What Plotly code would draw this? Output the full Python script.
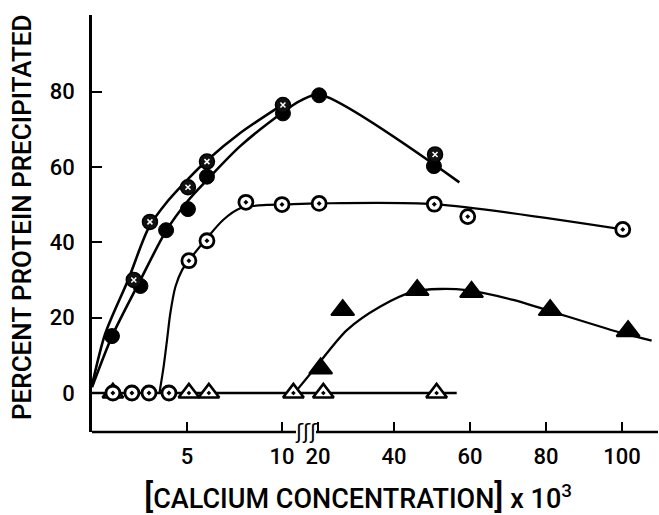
import plotly.graph_objects as go

# ---------------- data (concentration x10^3, percent precipitated) ----------------
# series A: circles with speckled (dark) fill
conc_a = [2.2, 3.05, 5.05, 6.05, 10.05, 50.8]
pct_a = [30.0, 45.4, 54.6, 61.4, 76.4, 63.3]
# series B: filled circles
conc_b = [1.05, 2.55, 3.9, 5.05, 6.05, 10.05, 20.3, 50.5]
pct_b = [15.1, 28.4, 43.2, 48.8, 57.4, 74.2, 79.0, 60.2]
# series C: open circles with centre dot
conc_c = [1.1, 2.1, 3.0, 4.05, 5.1, 6.05, 8.1, 10.0, 20.3, 50.6, 59.4, 100.2]
pct_c = [0.0, 0.0, 0.0, 0.0, 35.1, 40.4, 50.6, 50.0, 50.3, 50.1, 46.8, 43.4]
# series D: filled triangles
conc_d = [20.7, 26.5, 46.1, 60.4, 81.1, 101.6]
pct_d = [6.5, 22.0, 27.3, 26.8, 22.0, 16.4]
# series E: open triangles with centre dot
conc_e = [1.1, 5.1, 6.15, 10.6, 21.4, 51.2]
pct_e = [0.0, 0.0, 0.0, 0.0, 0.0, 0.0]

# hand-drawn fitted curves
curve_a_x = [0.0, 0.7, 1.9, 3.0, 4.0, 5.0, 6.0, 7.8, 10.05]
curve_a_y = [2.0, 15.8, 30.0, 44.0, 51.0, 56.5, 61.5, 69.0, 76.6]
curve_b_x = [0.0, 1.05, 2.5, 3.9, 5.05, 6.05, 7.8, 10.05, 10.95, 20.3, 57.2]
curve_b_y = [1.5, 15.0, 29.5, 43.0, 51.0, 56.5, 65.5, 74.5, 77.5, 79.2, 55.9]
curve_c_x = [3.55, 3.77, 3.95, 4.12, 4.39, 4.74, 5.09, 6.1, 6.9, 7.8, 9.2, 10.05, 20.3, 50.6, 100.2]
curve_c_y = [0.0, 7.0, 14.1, 21.1, 28.2, 32.6, 35.1, 41.4, 45.9, 49.0, 49.9, 50.0, 50.3, 50.1, 43.4]
curve_d_x = [10.74, 18.8, 27.6, 36.3, 45.1, 52.0, 59.1, 71.4, 80.2, 100.3, 107.8]
curve_d_y = [0.5, 6.1, 16.7, 22.9, 26.9, 27.6, 27.3, 24.7, 22.0, 15.8, 13.9]
zero_line_x = [0.0, 56.5]
zero_line_y = [0.0, 0.0]

x_tick_values = [5, 10, 20, 40, 60, 80, 100]
x_tick_labels = ["5", "10", "20", "40", "60", "80", "100"]
y_tick_values = [0, 20, 40, 60, 80]


# broken x axis: 0-11 linear, then 20-100 compressed 5x
def xpos(c):
    if c <= 11.2:
        return c
    return 11.895 + (c - 20.0) * 0.2


def xs(vals):
    return [xpos(v) for v in vals]


FONT = "Roboto, sans-serif"
LW = 2.6

fig = go.Figure()

# lines
for cx, cy, w in [(zero_line_x, zero_line_y, LW), (curve_a_x, curve_a_y, LW),
                  (curve_b_x, curve_b_y, LW), (curve_c_x, curve_c_y, 2.2),
                  (curve_d_x, curve_d_y, 2.3)]:
    fig.add_trace(go.Scatter(x=xs(cx), y=cy, mode="lines",
                             line=dict(color="black", width=w, shape="spline", smoothing=0.8),
                             hoverinfo="skip", showlegend=False))

# markers
fig.add_trace(go.Scatter(x=xs(conc_e), y=pct_e, mode="markers",
                         marker=dict(symbol="triangle-up-dot", size=18, color="white",
                                     line=dict(color="black", width=2.6)),
                         showlegend=False))
fig.add_trace(go.Scatter(x=xs(conc_c), y=pct_c, mode="markers",
                         marker=dict(symbol="circle-dot", size=14, color="white",
                                     line=dict(color="black", width=2.8)),
                         showlegend=False))
fig.add_trace(go.Scatter(x=xs(conc_d), y=pct_d, mode="markers",
                         marker=dict(symbol="triangle-up", size=20, color="black",
                                     line=dict(color="black", width=2)),
                         showlegend=False))
fig.add_trace(go.Scatter(x=xs(conc_b), y=pct_b, mode="markers",
                         marker=dict(symbol="circle", size=15, color="black",
                                     line=dict(color="black", width=1)),
                         showlegend=False))
fig.add_trace(go.Scatter(x=xs(conc_a), y=pct_a, mode="markers",
                         marker=dict(symbol="circle", size=15, color="#111",
                                     line=dict(color="black", width=1.5)),
                         showlegend=False))
fig.add_trace(go.Scatter(x=xs(conc_a), y=pct_a, mode="markers",
                         marker=dict(symbol="x-thin", size=5, color="white",
                                     line=dict(color="white", width=1.5)),
                         showlegend=False))

x_max = (658 - 92) / 19.0
fig.update_layout(
    width=659, height=515,
    margin=dict(l=92, r=1, t=15, b=83),
    paper_bgcolor="white", plot_bgcolor="white",
    font=dict(family=FONT, color="black", size=22),
    xaxis=dict(range=[0, x_max], showgrid=False, zeroline=False, showline=False,
               tickmode="array", tickvals=xs(x_tick_values), ticktext=x_tick_labels,
               ticks="inside", ticklen=10, tickwidth=2.4, tickcolor="black",
               ticklabelstandoff=9, tickfont=dict(size=22, weight=500)),
    yaxis=dict(range=[-10.35, 100.3], showgrid=False, zeroline=False,
               showline=True, linecolor="black", linewidth=2.6,
               tickmode="array", tickvals=y_tick_values,
               ticks="inside", ticklen=10, tickwidth=2.4, tickcolor="black",
               ticklabelstandoff=10, tickfont=dict(size=22, weight=500)),
    shapes=[
        dict(type="line", xref="x", yref="paper", x0=0, x1=(296 - 92) / 19.0, y0=0, y1=0,
             line=dict(color="black", width=2.6)),
        dict(type="line", xref="x", yref="paper", x0=(316 - 92) / 19.0, x1=x_max, y0=0, y1=0,
             line=dict(color="black", width=2.6)),
    ],
    annotations=[
        dict(text="ʃʃʃ", xref="x", yref="paper", x=(306 - 92) / 19.0, y=0,
             showarrow=False, font=dict(size=21, family="DejaVu Sans"), yanchor="middle"),
        dict(text="PERCENT PROTEIN PRECIPITATED", xref="paper", yref="paper",
             x=0, xshift=-70, y=(432 - 217) / 417.0, textangle=-90, showarrow=False,
             font=dict(size=26, weight=500), xanchor="center", yanchor="middle"),
        dict(text='<span style="font-size:34px">[</span>CALCIUM CONCENTRATION<span style="font-size:34px">]</span> x 10<sup>3</sup>',
             xref="paper", yref="paper", x=(358 - 92) / 566.0, y=0, yshift=-64,
             showarrow=False, font=dict(size=27, weight=500), xanchor="center", yanchor="middle"),
    ],
)

fig.write_html("out.html")
